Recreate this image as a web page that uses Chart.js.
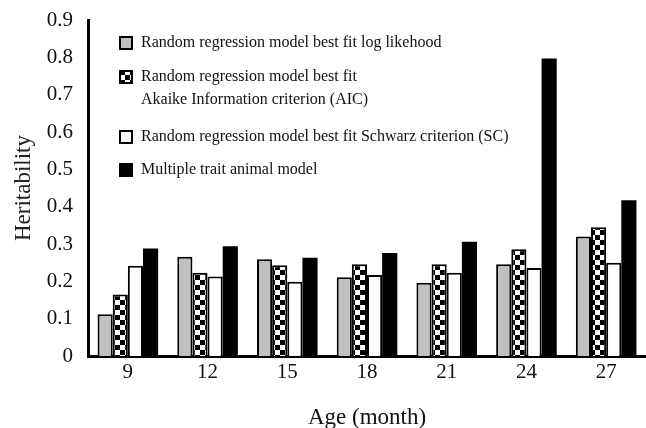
<!DOCTYPE html>
<html lang="en">
<head>
    <meta charset="UTF-8">
    <title>Heritability by age</title>
    <script src="https://cdn.jsdelivr.net/npm/chart.js@4.4.1/dist/chart.umd.min.js"></script>
    <style>
        body {
            margin: 0;
            padding: 0;
            background: #fff;
        }
        .chart-container {
            position: relative;
            width: 646px;
            height: 428px;
        }
    </style>
</head>
<body>
    <div class="chart-container">
        <canvas id="heritChart"></canvas>
    </div>

    <script>
        // data
        const ages = ['9', '12', '15', '18', '21', '24', '27'];
        const logLik = [0.112, 0.266, 0.259, 0.211, 0.196, 0.246, 0.320];
        const aic    = [0.165, 0.223, 0.243, 0.246, 0.246, 0.286, 0.345];
        const sc     = [0.242, 0.213, 0.199, 0.217, 0.223, 0.236, 0.250];
        const multi  = [0.288, 0.294, 0.263, 0.276, 0.306, 0.797, 0.417];
        const yTicks = [0, 0.1, 0.2, 0.3, 0.4, 0.5, 0.6, 0.7, 0.8, 0.9];

        const seriesNames = [
            'Random regression model best fit log likehood',
            'Random regression model best fit Akaike Information criterion (AIC)',
            'Random regression model best fit Schwarz criterion (SC)',
            'Multiple trait animal model'
        ];
        // legend text as printed (second entry wraps)
        const legendLines = [
            ['Random regression model best fit log likehood'],
            ['Random regression model best fit', 'Akaike Information criterion (AIC)'],
            ['Random regression model best fit Schwarz criterion (SC)'],
            ['Multiple trait animal model']
        ];

        const serif = "'Liberation Serif', 'DejaVu Serif', serif";

        function checker() {
            const c = document.createElement('canvas');
            c.width = 10;
            c.height = 10;
            const g = c.getContext('2d');
            g.fillStyle = '#fff';
            g.fillRect(0, 0, 10, 10);
            g.fillStyle = '#000';
            g.fillRect(0, 0, 5, 5);
            g.fillRect(5, 5, 5, 5);
            return g.createPattern(c, 'repeat');
        }
        const checkFill = checker();

        const fills = ['#c0c0c0', checkFill, '#ffffff', '#000000'];

        // legend inside the plot, top left
        const insideLegend = {
            id: 'insideLegend',
            afterDraw(chart) {
                const ctx = chart.ctx;
                const rows = [43, 77, 137, 170];
                ctx.save();
                ctx.font = '16px ' + serif;
                ctx.textBaseline = 'middle';
                legendLines.forEach((lines, i) => {
                    const y = rows[i];
                    ctx.fillStyle = fills[i];
                    ctx.fillRect(119, y - 7, 14, 14);
                    if (i < 3) {
                        ctx.strokeStyle = '#000';
                        ctx.lineWidth = 2;
                        ctx.strokeRect(120, y - 6, 12, 12);
                    }
                    ctx.fillStyle = '#111';
                    lines.forEach((t, k) => ctx.fillText(t, 141, y + k * 23));
                });
                ctx.restore();
            }
        };

        window.onload = function() {
            new Chart(document.getElementById('heritChart'), {
                type: 'bar',
                data: {
                    labels: ages,
                    datasets: [
                        { label: seriesNames[0], data: logLik, backgroundColor: fills[0], borderColor: '#000', borderWidth: 2 },
                        { label: seriesNames[1], data: aic, backgroundColor: fills[1], borderColor: '#000', borderWidth: 2 },
                        { label: seriesNames[2], data: sc, backgroundColor: fills[2], borderColor: '#000', borderWidth: 2 },
                        { label: seriesNames[3], data: multi, backgroundColor: fills[3], borderWidth: 0 }
                    ]
                },
                options: {
                    responsive: true,
                    maintainAspectRatio: false,
                    animation: false,
                    barPercentage: 1.0,
                    categoryPercentage: 0.76,
                    layout: { padding: { top: 20, right: 0, left: 0, bottom: 0 } },
                    plugins: {
                        legend: { display: false },
                        tooltip: { enabled: false }
                    },
                    scales: {
                        x: {
                            grid: { display: false },
                            border: { color: '#000', width: 3 },
                            ticks: {
                                color: '#111',
                                padding: -4,
                                font: { family: serif, size: 21 }
                            },
                            title: {
                                display: true,
                                text: 'Age (month)',
                                color: '#111',
                                padding: { top: 10, bottom: -4 },
                                font: { family: serif, size: 23 }
                            },
                            afterFit: s => { s.height = 72; }
                        },
                        y: {
                            min: 0,
                            max: 0.9,
                            afterBuildTicks: s => { s.ticks = yTicks.map(v => ({ value: v })); },
                            grid: { display: false },
                            border: { color: '#000', width: 3 },
                            ticks: {
                                color: '#111',
                                padding: 7,
                                font: { family: serif, size: 21 },
                                callback: v => v === 0 ? '0' : (Math.round(v * 10) / 10).toFixed(1)
                            },
                            title: {
                                display: true,
                                text: 'Heritability',
                                color: '#222',
                                padding: { top: 10, bottom: 0 },
                                font: { family: serif, size: 23 }
                            },
                            afterFit: s => { s.width = 88; }
                        }
                    }
                },
                plugins: [insideLegend]
            });
        };
    </script>
</body>
</html>
